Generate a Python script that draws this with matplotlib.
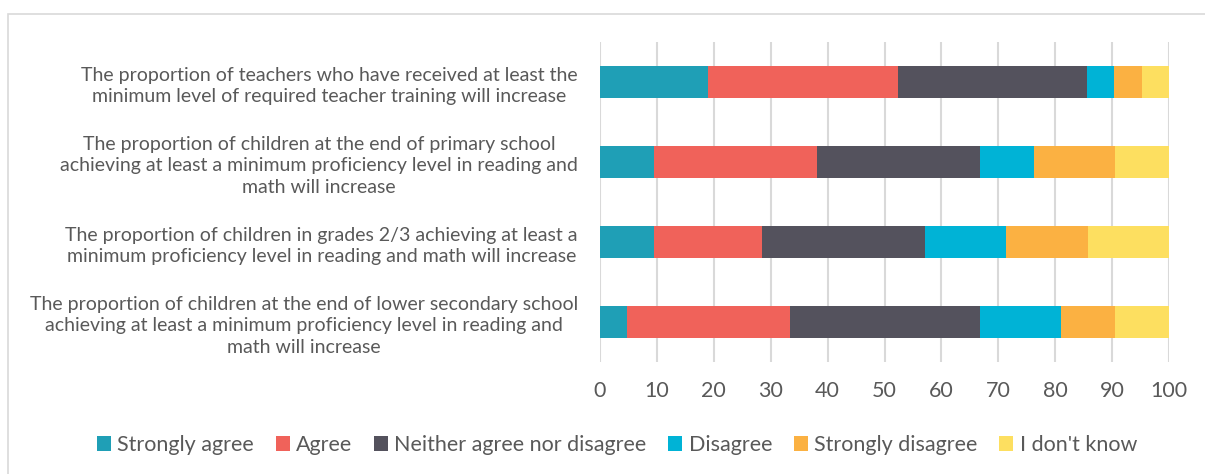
import numpy as np
import matplotlib.pyplot as plt
from matplotlib.patches import Rectangle

# survey responses (percent), top to bottom
statements = [
    'The proportion of teachers who have received at least the\nminimum level of required teacher training will increase',
    'The proportion of children at the end of primary school\nachieving at least a minimum proficiency level in reading and\nmath will increase',
    'The proportion of children in grades 2/3 achieving at least a\nminimum proficiency level in reading and math will increase',
    'The proportion of children at the end of lower secondary school\nachieving at least a minimum proficiency level in reading and\nmath will increase',
]
responses = ['Strongly agree', 'Agree', 'Neither agree nor disagree',
             'Disagree', 'Strongly disagree', "I don't know"]
strongly_agree = [19.0, 9.5, 9.5, 4.8]
agree = [33.3, 28.6, 19.0, 28.6]
neither = [33.3, 28.6, 28.6, 33.3]
disagree = [4.8, 9.5, 14.3, 14.3]
strongly_disagree = [4.8, 14.3, 14.3, 9.5]
dont_know = [4.8, 9.5, 14.3, 9.5]
colors = ['#1f9fb6', '#f0625a', '#54525d', '#00b3d6', '#fbb142', '#fddf60']

series = [strongly_agree, agree, neither, disagree, strongly_disagree, dont_know]

plt.rcParams['font.family'] = ['Lato', 'DejaVu Sans']

fig = plt.figure(figsize=(12.05, 4.74), dpi=100)
ax = fig.add_axes([600 / 1205, 1 - 362 / 474, 569 / 1205, 320 / 474])

y = np.arange(len(statements))
left = np.zeros(len(statements))
for vals, name, c in zip(series, responses, colors):
    ax.barh(y, vals, left=left, height=0.41, color=c, label=name, zorder=3)
    left += np.array(vals)

ax.set_ylim(len(statements) - 0.5, -0.5)
ax.set_xlim(0, 100)
ax.set_xticks(np.arange(0, 101, 10))
ax.set_yticks(y)
ax.set_yticklabels(statements, fontsize=14, color='#595959',
                   multialignment='center', linespacing=1.35)
ax.tick_params(axis='x', labelsize=15.5, colors='#595959', length=0, pad=14)
ax.tick_params(axis='y', length=0, pad=16)
ax.grid(axis='x', color='#d9d9d9', linewidth=1.5, zorder=0)
for s in ax.spines.values():
    s.set_visible(False)

fig.legend(loc='center', bbox_to_anchor=(0.512, 1 - 445 / 474), ncol=6, frameon=False,
           fontsize=15.5, handlelength=0.65, handleheight=0.65, handletextpad=0.3,
           columnspacing=1.0, labelcolor='#595959')

fig.patches.append(Rectangle((8 / 1205, -0.1), 1.2, 1 - 14 / 474 + 0.1,
                             transform=fig.transFigure, fill=False,
                             edgecolor='#d9d9d9', linewidth=1.2))

fig.savefig('out.png', dpi=100)
